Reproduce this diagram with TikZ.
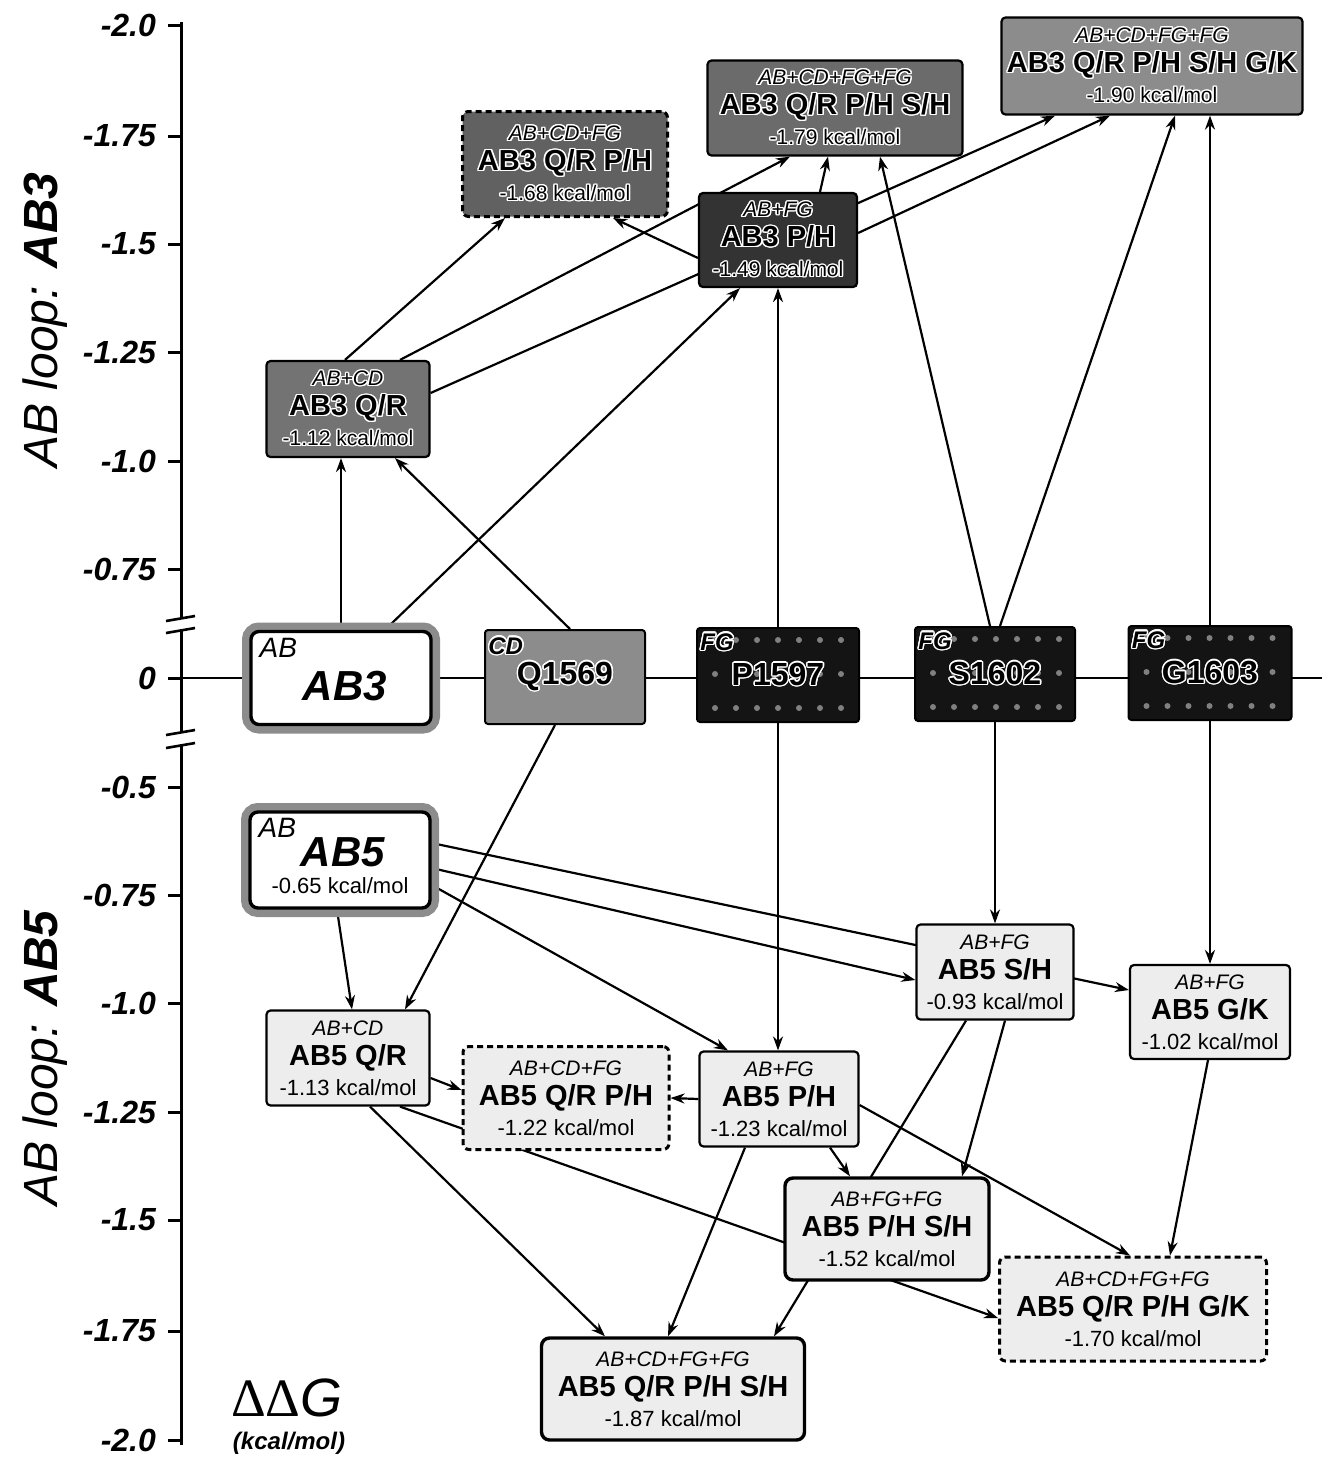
\documentclass[tikz,border=0pt]{standalone}
\usepackage{fontspec}
\setmainfont{Liberation Sans}
\newfontfamily\greekfont{Liberation Serif}
\usepackage{contour}
\contourlength{0.7pt}
\usepackage{tikz}
\usetikzlibrary{arrows.meta}
\pgfdeclarelayer{bg}
\pgfsetlayers{bg,main}

% three text lines of a combination box
\newcommand{\combo}[3]{{\itshape\fontsize{10.5}{15}\selectfont #1}\\{\bfseries\fontsize{14.5}{15}\selectfont #2}\\{\fontsize{11}{15}\selectfont #3}}
\newcommand{\combohalo}[3]{{\itshape\fontsize{10.5}{15}\selectfont\contour{white}{#1}}\\{\bfseries\fontsize{14.5}{15}\selectfont\contour{white}{#2}}\\{\fontsize{10.5}{15}\selectfont\contour{white}{#3}}}

\begin{document}
\begin{tikzpicture}[x=0.5pt, y=-0.5pt, >={Stealth[length=7pt,width=5pt]},
    combo3/.style={draw, line width=1.1pt, rounded corners=2pt, align=center, inner sep=1pt,
      font=\fontsize{11}{15}\selectfont},
    combo5/.style={combo3, fill=black!7},
    predicted/.style={dash pattern=on 3pt off 2pt, line width=1.5pt},
    final/.style={line width=1.7pt, rounded corners=4pt},
    wt/.style={draw, line width=1.7pt, fill=white, rounded corners=4pt,
      preaction={draw=black!45, line width=9pt}},
    site/.style={draw, line width=1pt, rounded corners=1.5pt, minimum width=80pt, minimum height=47pt,
      font=\bfseries\fontsize{16}{18}\selectfont},
    fgsite/.style={site, fill=black!92, path picture={
        \foreach \i in {0,...,6} \foreach \j in {0,1,2}
          \fill[black!50] ([shift={(9pt+\i*10.5pt,-6pt-\j*17pt)}]path picture bounding box.north west) circle (1.5pt);}},
    sitetag/.style={anchor=north west, inner sep=1pt, font=\bfseries\itshape\fontsize{12}{14}\selectfont},
    tagtext/.style={anchor=north west, inner sep=1pt, font=\itshape\fontsize{14}{16}\selectfont},
    ticklabel/.style={anchor=east, font=\bfseries\itshape\fontsize{16}{18}\selectfont},
    axistitle/.style={rotate=90, font=\itshape\fontsize{24}{26}\selectfont},
    link/.style={->, line width=1.1pt}]
  \useasboundingbox (0,0) rectangle (1329,1457);

  % energy axis with two breaks
  \draw[line width=1.5pt] (181,22) -- (181,618);
  \draw[line width=1.5pt] (181,630) -- (181,731);
  \draw[line width=1.5pt] (181,744) -- (181,1445);
  \draw[line width=1.3pt] (166,621) -- (195,616);
  \draw[line width=1.3pt] (166,633) -- (195,628);
  \draw[line width=1.3pt] (166,735) -- (195,730);
  \draw[line width=1.3pt] (166,748) -- (195,743);
  \foreach \ty/\tl in {25/-2.0, 136/-1.75, 244/-1.5, 352/-1.25, 461/-1.0, 569/-0.75, 678/0,
      787/-0.5, 895/-0.75, 1003/-1.0, 1112/-1.25, 1220/-1.5, 1331/-1.75, 1440/-2.0} {
    \draw[line width=1.5pt] (168,\ty) -- (181,\ty);
    \node[ticklabel] at (163,\ty) {\tl};
  }
  \node[axistitle] (ab3title) at (45,320) {AB loop: \textbf{AB3}};
  \node[axistitle] (ab5title) at (45,1058) {AB loop: \textbf{AB5}};
  \node[inner sep=0pt, anchor=base] (ddg) at (287,1416) {{\greekfont\fontsize{27}{30}\selectfont ΔΔ}{\itshape\fontsize{27}{30}\selectfont G}};
  \node[inner sep=0pt, anchor=base, font=\bfseries\itshape\fontsize{12}{14}\selectfont] (unit) at (289,1449) {(kcal/mol)};
  \coordinate (zero) at (181,678);
  \coordinate (zeroend) at (1322,678);

  % wild type loops and single sites
  \node[wt, minimum width=90pt, minimum height=46.5pt] (ab3) at (341,678) {};
  \node[tagtext] (ab3tag) at ([shift={(4pt,-3pt)}]ab3.north west) {AB};
  \node[font=\bfseries\itshape\fontsize{21}{24}\selectfont] (ab3name) at (345,686) {AB3};
  \node[site, fill=black!45] (q1569) at (565,677) {\contour{white}{Q1569}};
  \node[sitetag] (q1569tag) at ([shift={(1pt,-3pt)}]q1569.north west) {\contour{white}{CD}};
  \node[fgsite, minimum width=81pt] (p1597) at (778,675) {\contour{white}{P1597}};
  \node[sitetag] (p1597tag) at ([shift={(1pt,-2pt)}]p1597.north west) {\contour{white}{FG}};
  \node[fgsite] (s1602) at (995,674) {\contour{white}{S1602}};
  \node[sitetag] (s1602tag) at ([shift={(1pt,-2pt)}]s1602.north west) {\contour{white}{FG}};
  \node[fgsite, minimum width=81.5pt] (g1603) at (1210,673) {\contour{white}{G1603}};
  \node[sitetag] (g1603tag) at ([shift={(1pt,-2pt)}]g1603.north west) {\contour{white}{FG}};

  % AB3 combinations
  \node[combo3, fill=black!55, minimum width=81.5pt, minimum height=48pt] (ab3qr) at (348,409)
    {\combohalo{AB+CD}{AB3 Q/R}{-1.12 kcal/mol}};
  \node[combo3, predicted, fill=black!62, rounded corners=3pt, minimum width=102.5pt, minimum height=52.5pt] (ab3qrph) at (565,164)
    {\combohalo{AB+CD+FG}{AB3 Q/R P/H}{-1.68 kcal/mol}};
  \node[combo3, fill=black!80, minimum width=79pt, minimum height=47pt] (ab3ph) at (778,240)
    {\combohalo{AB+FG}{AB3 P/H}{-1.49 kcal/mol}};
  \node[combo3, fill=black!58, minimum width=127.5pt, minimum height=47.5pt] (ab3qrphsh) at (835,108)
    {\combohalo{AB+CD+FG+FG}{AB3 Q/R P/H S/H}{-1.79 kcal/mol}};
  \node[combo3, fill=black!45, minimum width=150.5pt, minimum height=48.5pt] (ab3all) at (1152,66)
    {\combohalo{AB+CD+FG+FG}{AB3 Q/R P/H S/H G/K}{-1.90 kcal/mol}};

  % AB5 and its combinations
  \node[wt, minimum width=90pt, minimum height=48pt] (ab5) at (340,860) {};
  \node[tagtext] (ab5tag) at ([shift={(4pt,-3pt)}]ab5.north west) {AB};
  \node[font=\bfseries\itshape\fontsize{21}{24}\selectfont] (ab5name) at (343,852) {AB5};
  \node[font=\fontsize{11}{13}\selectfont] (ab5val) at (340,886) {-0.65 kcal/mol};
  \node[combo5, minimum width=81.5pt, minimum height=47.5pt] (ab5qr) at (348,1058)
    {\combo{AB+CD}{AB5 Q/R}{-1.13 kcal/mol}};
  \node[combo5, predicted, rounded corners=3pt, minimum width=103pt, minimum height=51.5pt] (ab5qrph) at (566,1098)
    {\combo{AB+CD+FG}{AB5 Q/R P/H}{-1.22 kcal/mol}};
  \node[combo5, minimum width=79.5pt, minimum height=47.5pt] (ab5ph) at (779,1099)
    {\combo{AB+FG}{AB5 P/H}{-1.23 kcal/mol}};
  \node[combo5, minimum width=78.5pt, minimum height=47.5pt] (ab5sh) at (995,972)
    {\combo{AB+FG}{AB5 S/H}{-0.93 kcal/mol}};
  \node[combo5, minimum width=80pt, minimum height=47pt] (ab5gk) at (1210,1012)
    {\combo{AB+FG}{AB5 G/K}{-1.02 kcal/mol}};
  \node[combo5, final, minimum width=102pt, minimum height=51pt] (ab5phsh) at (887,1229)
    {\combo{AB+FG+FG}{AB5 P/H S/H}{-1.52 kcal/mol}};
  \node[combo5, predicted, rounded corners=3pt, minimum width=133.5pt, minimum height=52pt] (ab5qrphgk) at (1133,1309)
    {\combo{AB+CD+FG+FG}{AB5 Q/R P/H G/K}{-1.70 kcal/mol}};
  \node[combo5, final, minimum width=131.5pt, minimum height=51pt] (ab5qrphsh) at (673,1389)
    {\combo{AB+CD+FG+FG}{AB5 Q/R P/H S/H}{-1.87 kcal/mol}};

  \begin{pgfonlayer}{bg}
    \draw[line width=1.2pt] (zero) -- (zeroend);
    % AB3 pathways
    \draw[link] (ab3.north) -- (ab3.north |- ab3qr.south);
    \draw[link] ([xshift=22pt]ab3.north) -- ([xshift=-19pt]ab3ph.south);
    \draw[link] ([xshift=2.5pt]q1569.north) -- ([xshift=23.5pt]ab3qr.south);
    \draw[link] ([xshift=-1.5pt]ab3qr.north) -- ([xshift=-30pt]ab3qrph.south);
    \draw[link] ([xshift=26pt]ab3qr.north) -- ([xshift=-22.5pt]ab3qrphsh.south);
    \draw[link] ([yshift=8pt]ab3qr.east) -- ([xshift=-48.5pt]ab3all.south);
    \draw[link] ([xshift=21pt]ab3ph.north) -- ([xshift=-3.5pt]ab3qrphsh.south);
    \draw[link] ([yshift=-9pt]ab3ph.west) -- ([xshift=24pt]ab3qrph.south);
    \draw[link] ([yshift=3.5pt]ab3ph.east) -- ([xshift=-21pt]ab3all.south);
    \draw[link] (p1597.north) -- (p1597.north |- ab3ph.south);
    \draw[link] ([xshift=-2.5pt]s1602.north) -- ([xshift=22.5pt]ab3qrphsh.south);
    \draw[link] ([xshift=2.5pt]s1602.north) -- ([xshift=11.5pt]ab3all.south);
    \draw[link] (g1603.north) -- (g1603.north |- ab3all.south);
    % AB5 pathways
    \draw[link] ([xshift=-5pt]q1569.south) -- ([xshift=28.5pt]ab5qr.north);
    \draw[link] ([xshift=-1.5pt]ab5.south) -- ([xshift=2pt]ab5qr.north);
    \draw[link] ([yshift=8.5pt]ab5.east) -- ([yshift=11pt]ab5gk.west);
    \draw[link] ([yshift=-4pt]ab5.east) -- ([yshift=-4pt]ab5sh.west);
    \draw[link] ([yshift=-12.5pt]ab5.east) -- ([xshift=-25.5pt]ab5ph.north);
    \draw[link] (p1597.south) -- (p1597.south |- ab5ph.north);
    \draw[link] (s1602.south) -- (s1602.south |- ab5sh.north);
    \draw[link] (g1603.south) -- (g1603.south |- ab5gk.north);
    \draw[link] ([yshift=-10pt]ab5qr.east) -- ([yshift=4pt]ab5qrph.west);
    \draw[link] (ab5ph.west) -- (ab5qrph.east);
    \draw[link] ([xshift=11pt]ab5qr.south) -- ([xshift=-34pt]ab5qrphsh.north);
    \draw[link] ([xshift=26pt]ab5qr.south) -- ([yshift=-4.5pt]ab5qrphgk.west);
    \draw[link] ([xshift=25.5pt]ab5ph.south) -- ([xshift=-18.5pt]ab5phsh.north);
    \draw[link] ([yshift=-3pt]ab5ph.east) -- ([xshift=-1.5pt]ab5qrphgk.north);
    \draw[link] ([xshift=-17pt]ab5ph.south) -- ([xshift=-2.5pt]ab5qrphsh.north);
    \draw[link] ([xshift=-14.5pt]ab5sh.south) -- ([xshift=50.5pt]ab5qrphsh.north);
    \draw[link] ([xshift=5pt]ab5sh.south) -- ([xshift=37.5pt]ab5phsh.north);
    \draw[link] ([xshift=-1pt]ab5gk.south) -- ([xshift=18.5pt]ab5qrphgk.north);
  \end{pgfonlayer}
\end{tikzpicture}
\end{document}
